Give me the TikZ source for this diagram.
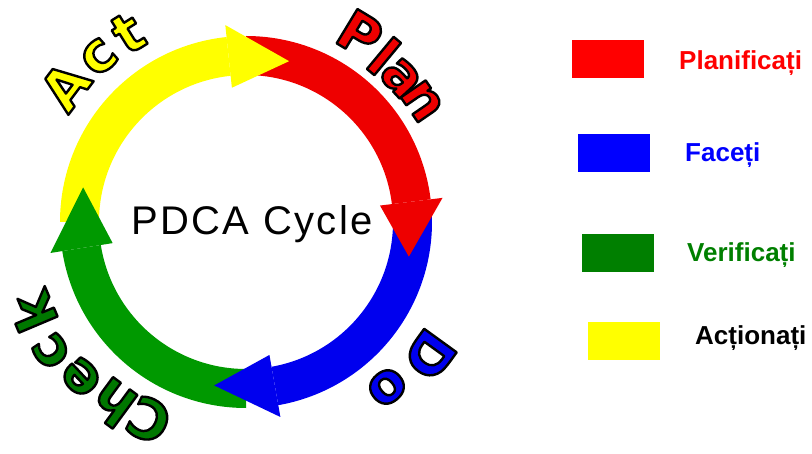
\documentclass[tikz,border=0pt]{standalone}
\usepackage{fontspec}
\setmainfont{Liberation Sans}
\newfontfamily\heavyfont{DejaVu Sans}
\definecolor{ringred}{HTML}{EE0000}
\definecolor{ringblue}{HTML}{0000EE}
\definecolor{ringgreen}{HTML}{009900}
\definecolor{ringyellow}{HTML}{FFFF00}
\definecolor{txtgreen}{HTML}{007700}
\definecolor{legred}{HTML}{FF0000}
\definecolor{legblue}{HTML}{0000FF}
\definecolor{leggreen}{HTML}{007F00}
\definecolor{legyellow}{HTML}{FFFF00}
\newcommand\outlined{\special{pdf:literal direct 0 G 2 Tr 2.4 w 1 j}}
\newcommand\Ro{186}
\newcommand\Ri{147}
\newcommand\Rm{166.5}
\newcommand\Rho{198}
\newcommand\Rhi{135}
% colour, start angle, head base angle, tip angle
\newcommand\pdcabody[3]{%
  \fill[#1] (#2:\Ro) arc[start angle=#2, end angle=#3, radius=\Ro]
    -- (#3:\Ri) arc[start angle=#3, end angle=#2, radius=\Ri] -- cycle;}
\newcommand\pdcahead[3]{%
  \fill[#1] (#2:\Rhi) -- (#2:\Rho) -- (#3:\Rm) -- cycle;}
\tikzset{
  lbl/.style={inner sep=0pt, anchor=center, font=\heavyfont\fontsize{55}{55}\selectfont\bfseries},
  legbox/.style={inner sep=0pt, minimum width=72pt, minimum height=38pt, anchor=north west},
  legtext/.style={inner sep=0pt, anchor=base west, font=\fontsize{26}{26}\selectfont\bfseries}
}
\begin{document}
\begin{tikzpicture}[x=1pt,y=1pt]
\useasboundingbox (0,0) rectangle (812,453);
\begin{scope}[shift={(246,231)}]
  \pdcabody{ringred}{90}{7}
  \pdcabody{ringblue}{2}{-80}
  \pdcabody{ringgreen}{270}{189}
  \pdcabody{ringyellow}{180}{96}
  \pdcahead{ringred}{7}{-12}
  \pdcahead{ringblue}{-80}{-101}
  \pdcahead{ringgreen}{189}{168}
  \pdcahead{ringyellow}{96}{75}
\end{scope}
% Act
\node (a1) [lbl, text=ringyellow, rotate=53.1] at (65,367) {\outlined A};
\node (a2) [lbl, text=ringyellow, rotate=41.7] at (99,396) {\outlined c};
\node (a3) [lbl, text=ringyellow, rotate=32] at (128,420) {\outlined t};
% Plan
\node (p1) [lbl, text=ringred, rotate=-31.2] at (360,419) {\outlined P};
\node (p2) [lbl, text=ringred, rotate=-39.7] at (384,397) {\outlined l};
\node (p3) [lbl, text=ringred, rotate=-47.1] at (401,375) {\outlined a};
\node (p4) [lbl, text=ringred, rotate=-55.5] at (422,352) {\outlined n};
% Do
\node (d1) [lbl, text=ringblue, rotate=-125.9] at (430,98) {\outlined D};
\node (d2) [lbl, text=ringblue, rotate=-139.5] at (387,66) {\outlined o};
% Check
\node (c1) [lbl, text=txtgreen, rotate=-206.1] at (149,33) {\outlined C};
\node (c2) [lbl, text=txtgreen, rotate=-216.3] at (113,50) {\outlined h};
\node (c3) [lbl, text=txtgreen, rotate=-226.8] at (81,76) {\outlined e};
\node (c4) [lbl, text=txtgreen, rotate=-236.5] at (51,102) {\outlined c};
\node (c5) [lbl, text=txtgreen, rotate=-247.1] at (33,141) {\outlined k};
\node (title) [inner sep=0pt, anchor=base, font=\fontsize{40}{40}\selectfont\addfontfeatures{LetterSpace=6}] at (252,218) {PDCA Cycle};
\node (k1) [legbox, fill=legred] at (572,413) {};
\node (k2) [legbox, fill=legblue] at (578,319) {};
\node (k3) [legbox, fill=leggreen] at (582,219) {};
\node (k4) [legbox, fill=legyellow] at (588,131) {};
\node (t1) [legtext, text=legred] at (679,383) {Planificați};
\node (t2) [legtext, text=legblue] at (685,291) {Faceți};
\node (t3) [legtext, text=leggreen] at (687,191) {Verificați};
\node (t4) [legtext, text=black] at (695,108) {Acționați};
\end{tikzpicture}
\end{document}
